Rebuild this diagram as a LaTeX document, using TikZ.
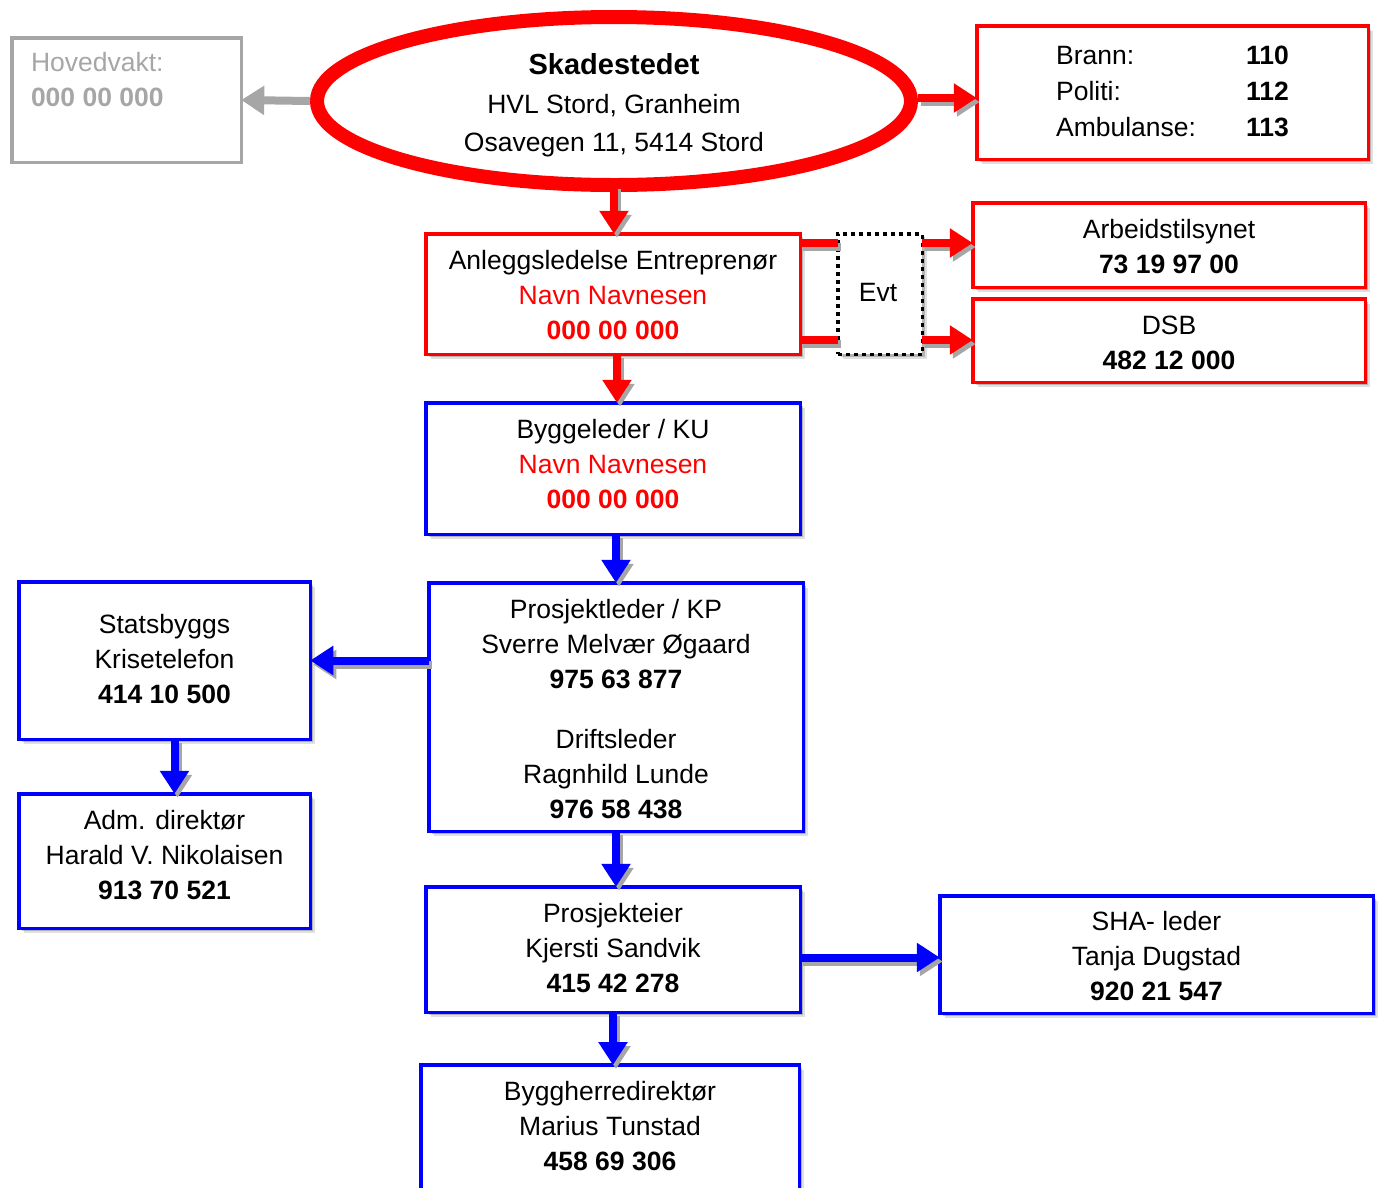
\documentclass[tikz,border=0pt]{standalone}
\usepackage{fontspec}
\setmainfont{Liberation Sans}
\usetikzlibrary{arrows.meta,shapes.geometric,shadows,calc}
\definecolor{hgray}{HTML}{A6A6A6}
\newcommand\shadedpath[2]{\draw[#1, draw=black!35, transform canvas={shift={(3pt,-4pt)}}] #2; \draw[#1] #2;}
\begin{document}
\begin{tikzpicture}[x=1pt,y=-1pt,
  every node/.style={font=\fontsize{26.5}{35}\selectfont, align=center, inner sep=0pt, outer sep=0pt},
  shad/.style={drop shadow={shadow xshift=5pt, shadow yshift=-5pt, opacity=0.12, fill=black},
               drop shadow={shadow xshift=3pt, shadow yshift=-3pt, opacity=0.2, fill=black}},
  rbox/.style={draw=red, line width=3.5pt, fill=white, shad},
  bbox/.style={draw=blue, line width=3.5pt, fill=white, shad},
  conn/.style={line width=8pt},
  arr/.style={conn, -{Triangle[length=23pt,width=28pt]}},
]
\useasboundingbox (0,0) rectangle (1385,1187);

% boxes
\node[draw=hgray, line width=3.5pt, minimum width=229.5pt, minimum height=124.5pt] (hov) at (126.5,100) {};
\node[anchor=north west, align=left, text=hgray] (hovt) at (31,52) {Hovedvakt:\\\textbf{000 00 000}};

\node[ellipse, draw=red, line width=14pt, fill=white, shad, minimum width=594pt, minimum height=168pt] (ell) at (614,101) {};
\node[font=\fontsize{26.5}{38.5}\selectfont] (ellt) at (614,105.5)
  {{\fontsize{29}{38.5}\selectfont\bfseries Skadestedet}\\HVL Stord, Granheim\\Osavegen 11, 5414 Stord};

\node[rbox, minimum width=391.5pt, minimum height=133.5pt] (nod) at (1172.5,92.5) {};
\node[align=left, font=\fontsize{26.5}{36}\selectfont] (nodt) at (1172.5,91)
  {\makebox[190pt][l]{Brann:}\textbf{110}\\\makebox[190pt][l]{Politi:}\textbf{112}\\\makebox[190pt][l]{Ambulanse:}\textbf{113}};

\node[rbox, minimum width=374.5pt, minimum height=120.5pt] (anl) at (613,294) {};
\node (anlt) at (613,295) {Anleggsledelse Entreprenør\\\textcolor{red}{Navn Navnesen}\\\textcolor{red}{\textbf{000 00 000}}};

\node[draw=black, line width=3.5pt, dash pattern=on 4pt off 4pt, fill=white, shad, minimum width=84.5pt, minimum height=120.5pt] (evt) at (880,294) {};
\node (evtt) at (878,292) {Evt};

\node[rbox, minimum width=392.5pt, minimum height=84.5pt] (arb) at (1169,245) {};
\node (arbt) at (1169,246.5) {Arbeidstilsynet\\\textbf{73 19 97 00}};
\node[rbox, minimum width=392.5pt, minimum height=83.5pt] (dsb) at (1169,340.5) {};
\node (dsbt) at (1169,342.5) {DSB\\\textbf{482 12 000}};

\node[bbox, minimum width=374.5pt, minimum height=131.5pt] (byg) at (613,468.5) {};
\node (bygt) at (613,464) {Byggeleder / KU\\\textcolor{red}{Navn Navnesen}\\\textcolor{red}{\textbf{000 00 000}}};

\node[bbox, minimum width=374.5pt, minimum height=248.5pt] (pro) at (616,707) {};
\node (prot) at (616,709)
  {Prosjektleder / KP\\Sverre Melvær Øgaard\\\textbf{975 63 877}\\[25pt]Driftsleder\\Ragnhild Lunde\\\textbf{976 58 438}};

\node[bbox, minimum width=291.5pt, minimum height=157.5pt] (sta) at (164.5,660.5) {};
\node (stat) at (164.5,659) {Statsbyggs\\Krisetelefon\\\textbf{414 10 500}};
\node[bbox, minimum width=291.5pt, minimum height=134.5pt] (adm) at (164.5,861) {};
\node (admt) at (164.5,855) {Adm. direktør\\Harald V. Nikolaisen\\\textbf{913 70 521}};

\node[bbox, minimum width=374.5pt, minimum height=125.5pt] (pei) at (613,949.5) {};
\node (peit) at (613,948) {Prosjekteier\\Kjersti Sandvik\\\textbf{415 42 278}};
\node[bbox, minimum width=433.5pt, minimum height=117.5pt] (sha) at (1156.5,954.5) {};
\node (shat) at (1156.5,956) {SHA- leder\\Tanja Dugstad\\\textbf{920 21 547}};
\node[bbox, minimum width=378.5pt, minimum height=130pt] (bhr) at (610,1130) {};
\node (bhrt) at (610,1126) {Byggherredirektør\\Marius Tunstad\\\textbf{458 69 306}};

% coordinates
\coordinate (e1) at ($(ell.east)+(7,-3)$);
\coordinate (a1) at ($(anl.east)+(0,-51)$);
\coordinate (a2) at ($(anl.east)+(0,46)$);
\coordinate (s1) at ($(anl.south)+(4,0)$);
\coordinate (k1) at ($(sta.south)+(10,0)$);
\coordinate (p1) at ($(pei.east)+(0,8)$);

% connectors
\draw[arr, hgray] ($(ell.west)+(-7,0)$) -- (hov.east);
\shadedpath{arr, red}{(e1) -- (e1 -| nod.west)}
\shadedpath{arr, red}{(ell.south) -- (ell.south |- anl.north)}
\shadedpath{conn, red}{(a1) -- (a1 -| evt.west)}
\shadedpath{conn, red}{(a2) -- (a2 -| evt.west)}
\shadedpath{arr, red}{(a1 -| evt.east) -- (a1 -| arb.west)}
\shadedpath{arr, red}{(a2 -| evt.east) -- (a2 -| dsb.west)}
\shadedpath{arr, red}{(s1) -- (s1 |- byg.north)}
\shadedpath{arr, blue}{(pro.north |- byg.south) -- (pro.north)}
\shadedpath{arr, blue}{(pro.west |- sta.east) -- (sta.east)}
\shadedpath{arr, blue}{(k1) -- (k1 |- adm.north)}
\shadedpath{arr, blue}{(pro.south) -- (pro.south |- pei.north)}
\shadedpath{arr, blue}{(p1) -- (p1 -| sha.west)}
\shadedpath{arr, blue}{(pei.south) -- (pei.south |- bhr.north)}
\end{tikzpicture}
\end{document}
